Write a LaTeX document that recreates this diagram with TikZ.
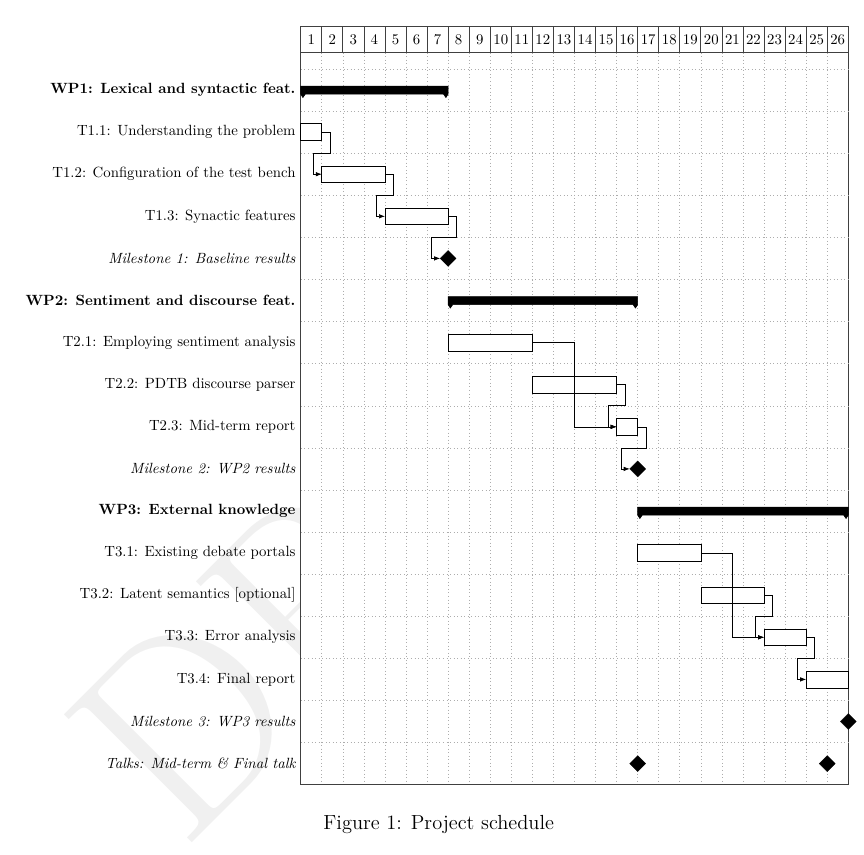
\documentclass[tikz,border=0pt]{standalone}
\usetikzlibrary{arrows.meta,calc,shapes.geometric}
\def\PXU{0.6758pt}
\newcommand\gtask[4]{%
  \node[taskbar, minimum width={(#4-#3)*21.06*\PXU}] (#1) at ({300.7+21.06*(#3+#4)/2},{90+42.1*#2}) {};}
\newcommand\ggroup[3]{%
  \pgfmathsetmacro\gxa{300.7+21.06*#2}%
  \pgfmathsetmacro\gxb{300.7+21.06*#3}%
  \pgfmathsetmacro\gct{90+42.1*#1-3.9}%
  \pgfmathsetmacro\gcb{90+42.1*#1+4.1}%
  \pgfmathsetmacro\gcp{90+42.1*#1+7.5}%
  \filldraw[grp] (\gxa,\gct) -- (\gxb,\gct) -- (\gxb,\gcb) -- (\gxb-2.2,\gcp) -- (\gxb-4.6,\gcb)
     -- (\gxa+4.6,\gcb) -- (\gxa+2.2,\gcp) -- (\gxa,\gcb) -- cycle;}
\begin{document}
\begin{tikzpicture}[x=\PXU,y=-\PXU,
  lbl/.style={anchor=east,inner sep=3.33pt},
  wplbl/.style={lbl,font=\bfseries},
  mslbl/.style={lbl,font=\itshape},
  taskbar/.style={draw=black,fill=white,line width=0.4pt,minimum height={16.8*\PXU},inner sep=0pt,outer sep=0pt},
  grp/.style={fill=black,draw=black,line width=0.4pt},
  ms/.style={diamond,aspect=1,fill=black,draw=black,line width=0.2pt,inner sep=0pt,outer sep=0pt,minimum width={16*\PXU},minimum height={16*\PXU}},
  link/.style={draw=black,line width=0.4pt,-{Latex[length=4pt,width=3pt]}},
  gridline/.style={draw=black!32,line width=0.4pt,dotted},
  cell/.style={draw=black!75,fill=white,line width=0.5pt,minimum width={21.06*\PXU},minimum height={25.6*\PXU},inner sep=0pt},
  canvas/.style={draw=black!75,fill=white,line width=0.5pt},
]
\useasboundingbox (0,0) rectangle (864,855);
% watermark
\node[rotate=45,anchor=base west,inner sep=0pt,text=black!6,font=\fontsize{179}{179}\selectfont] (wm) at (182,852.5) {DRAFT};
% canvas
\draw[canvas] (300.7,52.3) rectangle (848.26,784.4);
\foreach \i in {1,...,26} \node[cell] (h\i) at ({300.7+21.06*(\i-0.5)},39.5) {\i};
\foreach \k in {0,...,16} \draw[gridline] (300.9,{69+42.1*\k}) -- (848.0,{69+42.1*\k});
\foreach \i in {1,...,25} \draw[gridline] ({300.7+21.06*\i},52.6) -- ({300.7+21.06*\i},784.1);
% labels
\node[wplbl] (l0) at (300.7,90.0) {WP1: Lexical and syntactic feat.};
\node[lbl] (l1) at (300.7,132.1) {T1.1: Understanding the problem};
\node[lbl] (l2) at (300.7,174.2) {T1.2: Configuration of the test bench};
\node[lbl] (l3) at (300.7,216.3) {T1.3: Synactic features};
\node[mslbl] (l4) at (300.7,258.4) {Milestone 1: Baseline results};
\node[wplbl] (l5) at (300.7,300.5) {WP2: Sentiment and discourse feat.};
\node[lbl] (l6) at (300.7,342.6) {T2.1: Employing sentiment analysis};
\node[lbl] (l7) at (300.7,384.7) {T2.2: PDTB discourse parser};
\node[lbl] (l8) at (300.7,426.8) {T2.3: Mid-term report};
\node[mslbl] (l9) at (300.7,468.9) {Milestone 2: WP2 results};
\node[wplbl] (l10) at (300.7,511.0) {WP3: External knowledge};
\node[lbl] (l11) at (300.7,553.1) {T3.1: Existing debate portals};
\node[lbl] (l12) at (300.7,595.2) {T3.2: Latent semantics [optional]};
\node[lbl] (l13) at (300.7,637.3) {T3.3: Error analysis};
\node[lbl] (l14) at (300.7,679.4) {T3.4: Final report};
\node[mslbl] (l15) at (300.7,721.5) {Milestone 3: WP3 results};
\node[mslbl] (l16) at (300.7,763.6) {Talks: Mid-term \& Final talk};
% groups
\ggroup{0}{0}{7}
\ggroup{5}{7}{16}
\ggroup{10}{16}{26}
% tasks
\gtask{t11}{1}{0}{1}
\gtask{t12}{2}{1}{4}
\gtask{t13}{3}{4}{7}
\gtask{t21}{6}{7}{11}
\gtask{t22}{7}{11}{15}
\gtask{t23}{8}{15}{16}
\gtask{t31}{11}{16}{19}
\gtask{t32}{12}{19}{22}
\gtask{t33}{13}{22}{24}
\gtask{t34}{14}{24}{26}
% milestones
\node[ms] (m1) at (448.12,258.4) {};
\node[ms] (m2) at (637.66,468.9) {};
\node[ms] (m3) at (848.26,721.5) {};
\node[ms] (tk1) at (637.66,763.6) {};
\node[ms] (tk2) at (827.2,763.6) {};
% links
\draw[link] (t11.east) -- ++(8.5,0) -- ++(0,21.05) -| ($(t12.west)+(-8.5,0)$) -- (t12.west);
\draw[link] (t12.east) -- ++(8.5,0) -- ++(0,21.05) -| ($(t13.west)+(-8.5,0)$) -- (t13.west);
\draw[link] (t13.east) -- ++(8.5,0) -- ++(0,21.05) -| ($(m1.west)+(-8.5,0)$) -- (m1.west);
\draw[link] (t21.east) -| ($(t21.east)!0.5!(t23.west)$) |- (t23.west);
\draw[link] (t22.east) -- ++(8.5,0) -- ++(0,21.05) -| ($(t23.west)+(-8.5,0)$) -- (t23.west);
\draw[link] (t23.east) -- ++(8.5,0) -- ++(0,21.05) -| ($(m2.west)+(-8.5,0)$) -- (m2.west);
\draw[link] (t31.east) -| ($(t31.east)!0.5!(t33.west)$) |- (t33.west);
\draw[link] (t32.east) -- ++(8.5,0) -- ++(0,21.05) -| ($(t33.west)+(-8.5,0)$) -- (t33.west);
\draw[link] (t33.east) -- ++(8.5,0) -- ++(0,21.05) -| ($(t34.west)+(-8.5,0)$) -- (t34.west);
% caption
\node[anchor=base,inner sep=0pt,font=\fontsize{13.8}{16.5}\selectfont] (cap) at (438.7,829.3) {Figure 1: Project schedule};
\end{tikzpicture}
\end{document}
